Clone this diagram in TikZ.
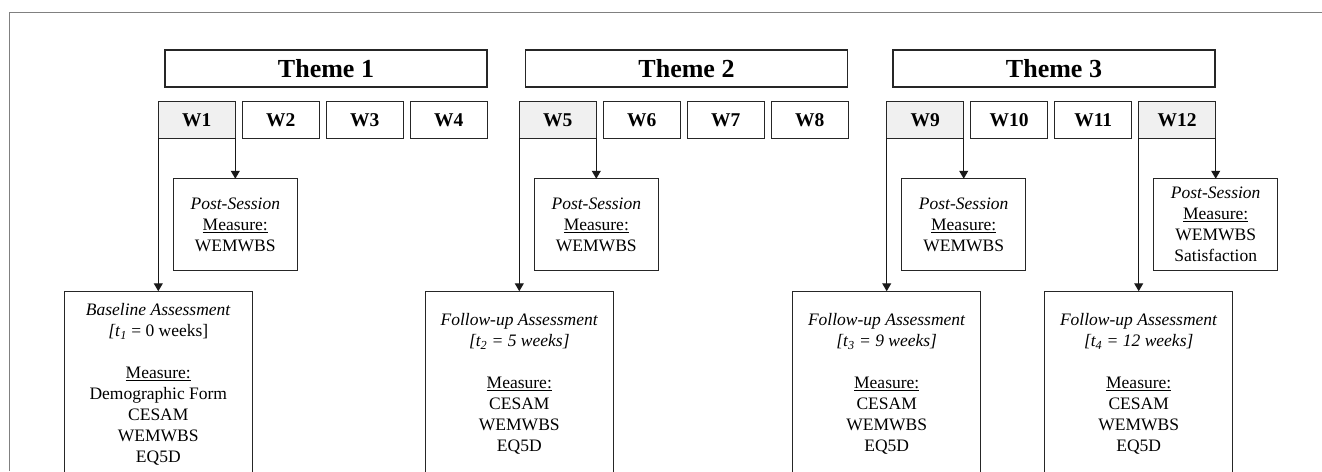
\documentclass[tikz,border=0pt]{standalone}
\usepackage{fontspec}
\setmainfont{Liberation Serif}
\usepackage{tikz}
\usetikzlibrary{positioning,arrows.meta}

\begin{document}
\begin{tikzpicture}[x=1pt,y=1pt,
theme/.style={minimum width=322pt,minimum height=37pt,font=\fontsize{26}{30}\selectfont\bfseries},
week/.style={minimum width=77pt,minimum height=36.5pt,font=\fontsize{19.5}{22}\selectfont\bfseries},
shaded/.style={week,fill=black!6},
session/.style={minimum width=124pt,minimum height=92pt,align=center,font=\fontsize{17.5}{21}\selectfont},
assess/.style={session,minimum width=188pt,minimum height=186pt},
link/.style={line width=1.1pt,draw=black!90,-{Triangle[width=9pt,length=8pt]}}]
\tikzstyle{every node}=[draw=black!85,line width=1.1pt,inner sep=0pt,outer sep=0pt]
    \useasboundingbox (0,0) rectangle (1322,-471);
    \clip (0,0) rectangle (1322,-471);
    \draw[black!50,line width=0.9pt] (9.5,-471) -- (9.5,-12.5) -- (1322,-12.5);

    % Themes
    \node[theme] (Theme1) at (326,-68.5) {Theme 1};
    \node[theme] (Theme2) at (686.5,-68.5) {Theme 2};
    \node[theme] (Theme3) at (1054,-68.5) {Theme 3};

    % Weeks
    \node[shaded,anchor=west] (W1) at (158.3,-120) {W1};
    \node[week,right=7pt of W1] (W2) {W2};
    \node[week,right=7pt of W2] (W3) {W3};
    \node[week,right=7pt of W3] (W4) {W4};
    \node[shaded,anchor=west] (W5) at (519.3,-120) {W5};
    \node[week,right=7pt of W5] (W6) {W6};
    \node[week,right=7pt of W6] (W7) {W7};
    \node[week,right=7pt of W7] (W8) {W8};
    \node[shaded,anchor=west] (W9) at (886.7,-120) {W9};
    \node[week,right=7pt of W9] (W10) {W10};
    \node[week,right=7pt of W10] (W11) {W11};
    \node[shaded,right=7pt of W11] (W12) {W12};

    % Post-session measures
    \node[session,below=40.5pt of W1.south east] (Post1) {\textit{Post-Session}\\\underline{Measure:}\\WEMWBS};
    \node[session,below=40.5pt of W5.south east] (Post2) {\textit{Post-Session}\\\underline{Measure:}\\WEMWBS};
    \node[session,below=40.5pt of W9.south east] (Post3) {\textit{Post-Session}\\\underline{Measure:}\\WEMWBS};
    \node[session,below=40.5pt of W12.south east] (Post4) {\textit{Post-Session}\\\underline{Measure:}\\WEMWBS\\Satisfaction};

    % Assessments
    \node[assess,below=153pt of W1.south west] (Base) {\textit{Baseline Assessment}\\\textit{[t}\textsubscript{\textit{1}} = 0 weeks]\\[21pt]\underline{Measure:}\\Demographic Form\\CESAM\\WEMWBS\\EQ5D};
    \node[assess,below=153pt of W5.south west] (Follow2) {\textit{Follow-up Assessment}\\\textit{[t\textsubscript{2} = 5 weeks]}\\[21pt]\underline{Measure:}\\CESAM\\WEMWBS\\EQ5D};
    \node[assess,below=153pt of W9.south west] (Follow3) {\textit{Follow-up Assessment}\\\textit{[t\textsubscript{3} = 9 weeks]}\\[21pt]\underline{Measure:}\\CESAM\\WEMWBS\\EQ5D};
    \node[assess,below=153pt of W12.south west] (Follow4) {\textit{Follow-up Assessment}\\\textit{[t\textsubscript{4} = 12 weeks]}\\[21pt]\underline{Measure:}\\CESAM\\WEMWBS\\EQ5D};

    \draw[link] (W1.south east) -- (Post1.north);
    \draw[link] (W5.south east) -- (Post2.north);
    \draw[link] (W9.south east) -- (Post3.north);
    \draw[link] (W12.south east) -- (Post4.north);
    \draw[link] (W1.south west) -- (Base.north);
    \draw[link] (W5.south west) -- (Follow2.north);
    \draw[link] (W9.south west) -- (Follow3.north);
    \draw[link] (W12.south west) -- (Follow4.north);
\end{tikzpicture}
\end{document}
